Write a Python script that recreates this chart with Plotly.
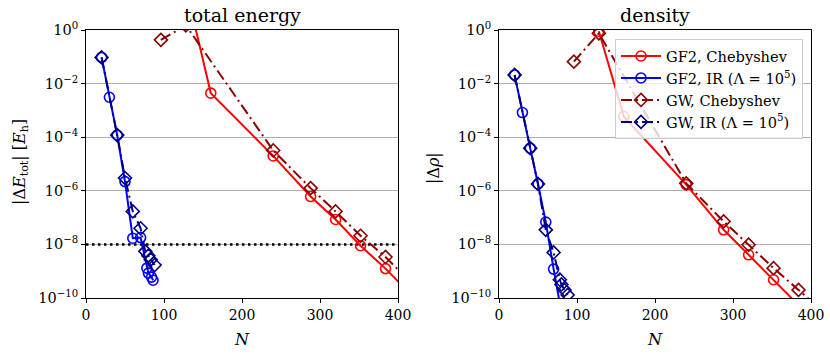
import plotly.graph_objects as go

# ---------------- data: total energy panel ----------------
e_gf2_cheb_N = [128, 160, 240, 288, 320, 352, 384, 416]
e_gf2_cheb = [40, 4.4e-3, 2.0e-5, 6.1e-7, 8.5e-8, 8.9e-9, 1.25e-9, 1.4e-10]
e_gw_cheb_N = [96, 128, 240, 288, 320, 352, 384, 416]
e_gw_cheb = [0.43, 1.5, 3.2e-5, 1.26e-6, 1.7e-7, 2.1e-8, 3.4e-9, 3.9e-10]
e_gf2_ir_N = [20, 30, 40, 50, 60, 70, 78, 80, 84, 86]
e_gf2_ir = [0.095, 3.1e-3, 1.2e-4, 2.2e-6, 1.7e-8, 1.8e-8, 1.3e-9, 8.5e-10, 6.0e-10, 4.6e-10]
e_gw_ir_N = [20, 40, 50, 60, 70, 76, 80, 83, 88]
e_gw_ir = [0.095, 1.2e-4, 3.0e-6, 1.7e-7, 4.0e-8, 5.5e-9, 3.8e-9, 2.7e-9, 1.7e-9]
e_threshold = 1e-8

# ---------------- data: density panel ----------------
d_gf2_cheb_N = [128, 160, 240, 288, 320, 352, 384]
d_gf2_cheb = [0.9, 5.9e-4, 1.7e-6, 3.5e-8, 4.1e-9, 4.8e-10, 5.4e-11]
d_gw_cheb_N = [96, 128, 240, 288, 320, 352, 384, 416]
d_gw_cheb = [0.066, 0.75, 1.9e-6, 7.2e-8, 9.7e-9, 1.3e-9, 2.0e-10, 3e-11]
d_gf2_ir_N = [20, 30, 40, 50, 60, 70, 78, 80]
d_gf2_ir = [0.021, 8.3e-4, 3.9e-5, 1.8e-6, 6.8e-8, 1.2e-9, 5e-11, 3e-11]
d_gw_ir_N = [20, 40, 50, 60, 70, 78, 80, 84, 88]
d_gw_ir = [0.021, 3.9e-5, 1.8e-6, 3.5e-8, 5e-9, 4.8e-10, 3.2e-10, 2.0e-10, 1.3e-10]

# ---------------- labels ----------------
series_names = ["GF2, Chebyshev", "GF2, IR (Λ = 10<sup>5</sup>)",
                "GW, Chebyshev", "GW, IR (Λ = 10<sup>5</sup>)"]
y_tickvals = [1, 1e-2, 1e-4, 1e-6, 1e-8, 1e-10]
y_ticktext = ["10<sup>0</sup>", "10<sup>−2</sup>", "10<sup>−4</sup>",
              "10<sup>−6</sup>", "10<sup>−8</sup>", "10<sup>−10</sup>"]
x_tickvals = [0, 100, 200, 300, 400]
panel_titles = ["total energy", "density"]

FONT = "DejaVu Serif, Liberation Serif, serif"
W, H = 830, 356
DASHDOT = "11px,4px,2px,4px"

styles = [
    dict(color="#ff0000", symbol="circle-open", dash="solid", size=10),
    dict(color="#0000ff", symbol="circle-open", dash="solid", size=10),
    dict(color="#8b0000", symbol="diamond-open", dash=DASHDOT, size=10),
    dict(color="#000080", symbol="diamond-open", dash=DASHDOT, size=10),
]

fig = go.Figure()

panels = [
    ("x", "y", [(e_gf2_cheb_N, e_gf2_cheb), (e_gf2_ir_N, e_gf2_ir),
                (e_gw_cheb_N, e_gw_cheb), (e_gw_ir_N, e_gw_ir)], False),
    ("x2", "y2", [(d_gf2_cheb_N, d_gf2_cheb), (d_gf2_ir_N, d_gf2_ir),
                  (d_gw_cheb_N, d_gw_cheb), (d_gw_ir_N, d_gw_ir)], True),
]

# threshold line in energy panel
fig.add_trace(go.Scatter(x=[0, 400], y=[e_threshold, e_threshold], mode="lines",
                         line=dict(color="black", width=2.5, dash="2.5px,3.5px"),
                         xaxis="x", yaxis="y", showlegend=False, hoverinfo="skip"))

for xa, ya, data, show in panels:
    for (nx, vy), st, name in zip(data, styles, series_names):
        fig.add_trace(go.Scatter(
            x=nx, y=vy, mode="lines+markers", name=name, showlegend=show,
            xaxis=xa, yaxis=ya,
            line=dict(color=st["color"], width=2, dash=st["dash"]),
            marker=dict(symbol=st["symbol"], size=st["size"], color=st["color"],
                        line=dict(color=st["color"], width=1.6)),
        ))

def px(x):
    return x / W

def py(y):
    return 1 - y / H

xdom1 = [px(86), px(398)]
xdom2 = [px(499), px(811)]
ydom = [py(298), py(30)]

def xaxis(dom, anchor):
    return dict(domain=dom, anchor=anchor, range=[0, 400], tickvals=x_tickvals,
                ticks="outside", ticklen=4, tickwidth=1, tickcolor="black",
                showline=True, linecolor="black", linewidth=1, mirror=True,
                showgrid=False, zeroline=False, automargin=False,
                tickfont=dict(family=FONT, size=14, color="black"))

def yaxis(anchor):
    return dict(domain=ydom, anchor=anchor, type="log", range=[-10, 0],
                tickvals=y_tickvals, ticktext=y_ticktext,
                ticks="outside", ticklen=4, tickwidth=1, tickcolor="black",
                showline=True, linecolor="black", linewidth=1, mirror=True,
                showgrid=True, gridcolor="#b0b0b0", gridwidth=1, zeroline=False,
                automargin=False,
                tickfont=dict(family=FONT, size=14.5, color="black"))

annotations = []
for cx, title in zip([(86 + 398) / 2, (499 + 811) / 2], panel_titles):
    annotations.append(dict(text=title, x=px(cx), y=py(15), xref="paper", yref="paper",
                            showarrow=False, xanchor="center", yanchor="middle",
                            font=dict(family=FONT, size=19, color="black")))
    annotations.append(dict(text="<i>N</i>", x=px(cx), y=py(339), xref="paper", yref="paper",
                            showarrow=False, xanchor="center", yanchor="middle",
                            font=dict(family=FONT, size=16, color="black")))
annotations.append(dict(text="|Δ<i>E</i><sub>tot</sub>| [<i>E</i><sub>h</sub>]",
                        x=px(20), y=py(162), xref="paper", yref="paper",
                        showarrow=False, textangle=-90, xanchor="center", yanchor="middle",
                        font=dict(family=FONT, size=16, color="black")))
annotations.append(dict(text="|Δ<i>ρ</i>|",
                        x=px(433), y=py(168), xref="paper", yref="paper",
                        showarrow=False, textangle=-90, xanchor="center", yanchor="middle",
                        font=dict(family=FONT, size=16, color="black")))

fig.update_layout(
    width=W, height=H, margin=dict(l=0, r=0, t=0, b=0, autoexpand=False),
    paper_bgcolor="white", plot_bgcolor="white",
    xaxis=xaxis(xdom1, "y"), yaxis=yaxis("x"),
    xaxis2=xaxis(xdom2, "y2"), yaxis2=yaxis("x2"),
    annotations=annotations,
    legend=dict(x=px(803), xanchor="right", y=py(39), yanchor="top",
                bgcolor="rgba(255,255,255,0.8)", bordercolor="#cccccc", borderwidth=1,
                font=dict(family=FONT, size=14.6, color="black"),
                tracegroupgap=0, itemwidth=40),
    showlegend=True,
)

fig.write_html("out.html", config={"displayModeBar": False},
               post_script="document.body.style.margin='0';")
